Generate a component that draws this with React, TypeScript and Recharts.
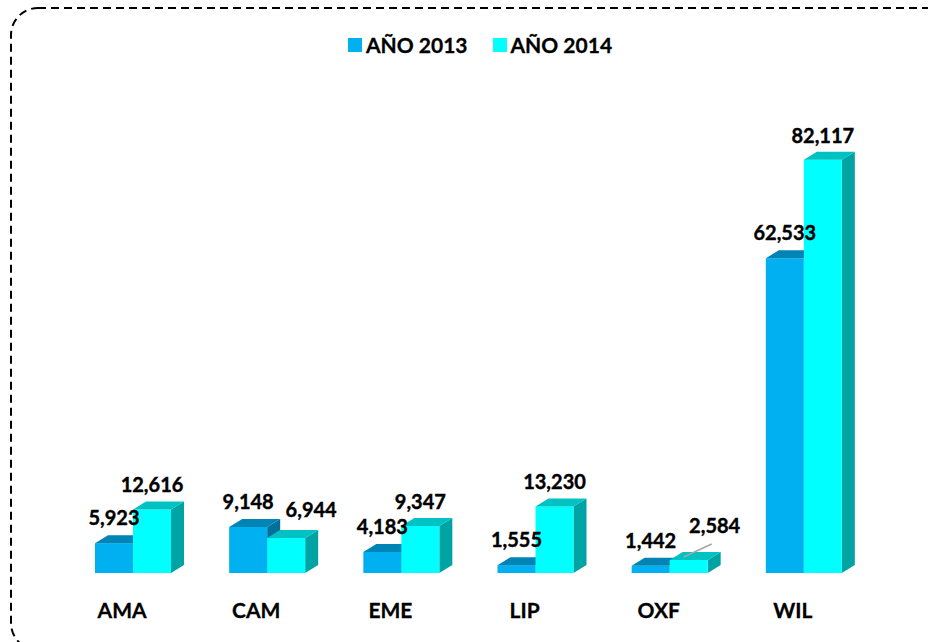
import React from "react";
import { BarChart, Bar, XAxis, YAxis, LabelList } from "recharts";

const categories = ["AMA", "CAM", "EME", "LIP", "OXF", "WIL"];
const year2013 = [5923, 9148, 4183, 1555, 1442, 62533];
const year2014 = [12616, 6944, 9347, 13230, 2584, 82117];

const data = categories.map((name, i) => ({ name, y2013: year2013[i], y2014: year2014[i] }));

const FONT = "Lato, 'Open Sans', sans-serif";
const DX = 13;
const DY = 8;

const fmt = (v: number) => v.toLocaleString("en-US");

const makeBar3D = (front: string, top: string, side: string) => (props: any) => {
  const { x, y, width, height } = props;
  if (height == null || width == null) return null;
  const b = y + height;
  return (
    <g>
      <polygon
        points={`${x + width},${y} ${x + width + DX},${y - DY} ${x + width + DX},${b - DY} ${x + width},${b}`}
        fill={side}
      />
      <rect x={x} y={y} width={width} height={height} fill={front} />
      <polygon
        points={`${x},${y} ${x + DX},${y - DY} ${x + width + DX},${y - DY} ${x + width},${y}`}
        fill={top}
      />
    </g>
  );
};

const Bar2013 = makeBar3D("#00B0F0", "#0083B5", "#006F99");
const Bar2014 = makeBar3D("#00FFFF", "#00C2C2", "#00A3A3");

const labelStyle = {
  fontFamily: FONT,
  fontWeight: 700,
  fontSize: 20,
  fill: "#000",
  stroke: "#000",
  strokeWidth: 0.4,
};

const ValueLabels = (props: any) => {
  const { x, y, width, height, index } = props;
  const base = y + height;
  const pxPer = height / year2014[index];
  const y13 = base - year2013[index] * pxPer;
  const x13 = x - width / 2;
  const x14 = x + width / 2;
  let dx14 = 0;
  let dy14 = 0;
  if (index === 1) {
    dx14 = 25;
    dy14 = -4;
  }
  if (index === 4) {
    dx14 = 26;
    dy14 = -10;
  }
  return (
    <g>
      <text x={x13} y={y13 - 18} textAnchor="middle" style={labelStyle}>
        {fmt(year2013[index])}
      </text>
      {index === 4 && (
        <line x1={x14 - 5} y1={y - 3} x2={x14 + 23} y2={y - 16} stroke="#A6A6A6" strokeWidth={1.5} />
      )}
      <text x={x14 + dx14} y={y - 17 + dy14} textAnchor="middle" style={labelStyle}>
        {fmt(year2014[index])}
      </text>
    </g>
  );
};

const CategoryTick = (props: any) => {
  const { x, y, payload } = props;
  return (
    <text
      x={x - 11}
      y={y + 37}
      textAnchor="middle"
      style={{ fontFamily: FONT, fontWeight: 700, fontSize: 21, fill: "#000", stroke: "#000", strokeWidth: 0.3 }}
    >
      {payload.value}
    </text>
  );
};

const legendItems = [
  { label: "AÑO 2013", color: "#00B0F0" },
  { label: "AÑO 2014", color: "#00FFFF" },
];

export default function App() {
  return (
    <div style={{ position: "absolute", left: 0, top: 0, width: 928, height: 642, background: "#fff", overflow: "hidden" }}>
      <svg width={928} height={642} style={{ position: "absolute", left: 0, top: 0 }}>
        <rect x={11} y={8} width={945} height={642} rx={27} ry={27} fill="none" stroke="#000" strokeWidth={2} strokeDasharray="8 5" />
      </svg>
      <div
        style={{
          position: "absolute",
          top: 32,
          left: 0,
          width: 928,
          display: "flex",
          justifyContent: "center",
          gap: 25,
          fontFamily: FONT,
          fontWeight: 700,
          fontSize: 21,
          paddingLeft: 32,
          boxSizing: "border-box",
        }}
      >
        {legendItems.map((it) => (
          <div key={it.label} style={{ display: "flex", alignItems: "center" }}>
            <span style={{ display: "inline-block", width: 14, height: 14, background: it.color, marginRight: 4 }} />
            <span style={{ WebkitTextStroke: "0.3px #000" }}>{it.label}</span>
          </div>
        ))}
      </div>
      <div style={{ position: "absolute", left: 0, top: 0 }}>
        <BarChart
          width={928}
          height={642}
          data={data}
          margin={{ top: 120, right: 57, bottom: 39, left: 66 }}
          barGap={0}
          barSize={38}
        >
          <YAxis hide domain={[0, 90000]} />
          <XAxis dataKey="name" axisLine={false} tickLine={false} height={30} tick={<CategoryTick />} interval={0} />
          <Bar dataKey="y2013" shape={Bar2013} isAnimationActive={false} />
          <Bar dataKey="y2014" shape={Bar2014} isAnimationActive={false}>
            <LabelList dataKey="y2014" content={<ValueLabels />} />
          </Bar>
        </BarChart>
      </div>
    </div>
  );
}
